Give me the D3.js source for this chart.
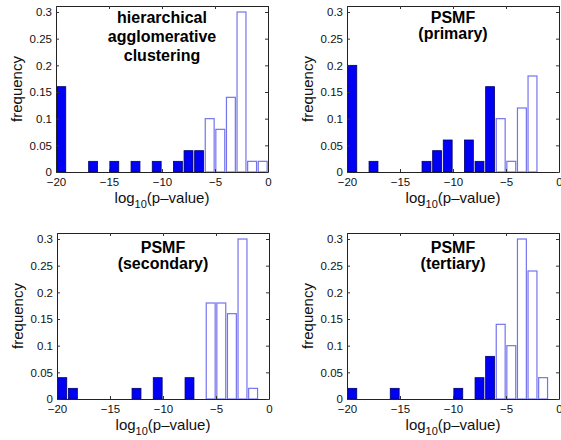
<!DOCTYPE html>
<html>
<head>
<meta charset="utf-8">
<script src="https://cdn.jsdelivr.net/npm/d3@7"></script>
<style>
  body { margin: 0; background: #fff; }
  svg { display: block; font-family: "Liberation Sans", Arial, Helvetica, sans-serif; }
</style>
</head>
<body>
<div id="chart"></div>
<script>
// bin centres of the log10(p-value) histogram
const binCenters = [-19.5, -18.5, -17.5, -16.5, -15.5, -14.5, -13.5, -12.5, -11.5, -10.5,
                    -9.5, -8.5, -7.5, -6.5, -5.5, -4.5, -3.5, -2.5, -1.5, -0.5];

// frequency per bin, one array per panel
const hacFreq       = [0.16, 0, 0, 0.02, 0, 0.02, 0, 0.02, 0, 0.02,
                       0, 0.02, 0.04, 0.04, 0.10, 0.08, 0.14, 0.30, 0.02, 0.02];
const primaryFreq   = [0.20, 0, 0.02, 0, 0, 0, 0, 0.02, 0.04, 0.06,
                       0, 0.06, 0.02, 0.16, 0.10, 0.02, 0.12, 0.18, 0, 0];
const secondaryFreq = [0.04, 0.02, 0, 0, 0, 0, 0, 0.02, 0, 0.04,
                       0, 0, 0.04, 0, 0.18, 0.18, 0.16, 0.30, 0.02, 0];
const tertiaryFreq  = [0.02, 0, 0, 0, 0.02, 0, 0, 0, 0, 0,
                       0.02, 0, 0.04, 0.08, 0.14, 0.10, 0.30, 0.24, 0.04, 0];

// bins below this are drawn filled (significant), the rest hollow
const sigThreshold = -6;

const xTicks = [-20, -15, -10, -5, 0];
const yTicks = [0, 0.05, 0.1, 0.15, 0.2, 0.25, 0.3];

const titles = [
  ["hierarchical", "agglomerative", "clustering"],
  ["PSMF", "(primary)"],
  ["PSMF", "(secondary)"],
  ["PSMF", "(tertiary)"]
];

const W = 561, H = 440;
const panels = [
  { freq: hacFreq,       title: titles[0], x: 56,  y: 6,   lines: [16.8, 36.3, 55.3] },
  { freq: primaryFreq,   title: titles[1], x: 347, y: 6,   lines: [17.3, 33.3] },
  { freq: secondaryFreq, title: titles[2], x: 57,  y: 233, lines: [20.3, 35.8] },
  { freq: tertiaryFreq,  title: titles[3], x: 347, y: 233, lines: [20.3, 35.8] }
];
const pw = 212, ph = 166;
const yMax = 0.3 * ph / 160;
const halfBar = 0.42;

const svg = d3.select("#chart")
  .append("svg")
  .attr("width", W)
  .attr("height", H);

const x = d3.scaleLinear().domain([-20, 0]).range([0, pw]);
const y = d3.scaleLinear().domain([0, yMax]).range([ph, 0]);

const fmtX = d => d < 0 ? "\u2212" + Math.abs(d) : String(d);

panels.forEach(p => {
  const g = svg.append("g").attr("transform", `translate(${p.x},${p.y})`);

  const bins = binCenters.map((c, i) => ({ c, f: p.freq[i] })).filter(d => d.f > 0);

  g.selectAll("rect.bar")
    .data(bins)
    .enter()
    .append("rect")
    .attr("class", "bar")
    .attr("x", d => x(d.c - halfBar))
    .attr("width", d => x(d.c + halfBar) - x(d.c - halfBar))
    .attr("y", d => y(d.f))
    .attr("height", d => y(0) - y(d.f))
    .attr("fill", d => d.c < sigThreshold ? "#0000f4" : "#fff")
    .attr("stroke", d => d.c < sigThreshold ? "#00006a" : "#7474ee")
    .attr("stroke-width", d => d.c < sigThreshold ? 0.8 : 1.2);

  // box with inward ticks on all sides
  const tick = 3;
  const axB = g.append("g").attr("transform", `translate(0,${ph})`)
    .call(d3.axisBottom(x).tickValues(xTicks).tickSize(-tick).tickSizeOuter(0).tickPadding(6).tickFormat(fmtX));
  const axL = g.append("g")
    .call(d3.axisLeft(y).tickValues(yTicks).tickSize(-tick).tickSizeOuter(0).tickPadding(4).tickFormat(d => String(d)));
  const axT = g.append("g")
    .call(d3.axisTop(x).tickValues(xTicks).tickSize(-tick).tickSizeOuter(0).tickFormat(""));
  const axR = g.append("g").attr("transform", `translate(${pw},0)`)
    .call(d3.axisRight(y).tickValues(yTicks).tickSize(-tick).tickSizeOuter(0).tickFormat(""));

  [axB, axL, axT, axR].forEach(a => {
    a.select(".domain").attr("stroke", "#222").attr("stroke-width", 1);
    a.selectAll(".tick line").attr("stroke", "#333");
    a.selectAll("text").attr("font-size", 11.5).attr("fill", "#111")
      .attr("font-family", "'Liberation Sans', Arial, sans-serif");
  });

  // x label with subscript
  const xl = g.append("text")
    .attr("x", pw / 2)
    .attr("y", ph + 31)
    .attr("text-anchor", "middle")
    .attr("font-size", 15)
    .attr("fill", "#111");
  xl.append("tspan").text("log");
  xl.append("tspan").attr("font-size", 11).attr("dy", 5).text("10");
  xl.append("tspan").attr("dy", -5).text("(p\u2013value)");

  g.append("text")
    .attr("transform", `translate(${-34},${ph / 2}) rotate(-90)`)
    .attr("text-anchor", "middle")
    .attr("font-size", 15)
    .attr("fill", "#111")
    .text("frequency");

  g.selectAll("text.title")
    .data(p.title)
    .enter()
    .append("text")
    .attr("class", "title")
    .attr("x", pw / 2)
    .attr("y", (d, i) => p.lines[i])
    .attr("text-anchor", "middle")
    .attr("font-size", 16)
    .attr("font-weight", "bold")
    .attr("fill", "#000")
    .text(d => d);
});
</script>
</body>
</html>
